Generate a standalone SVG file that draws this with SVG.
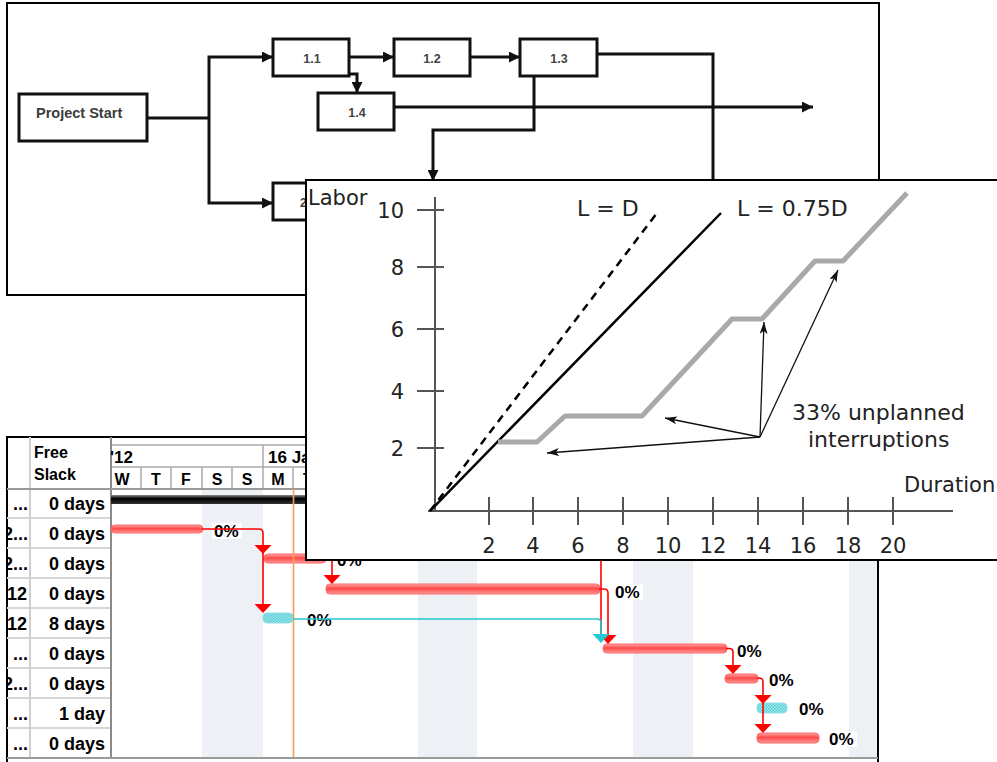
<svg xmlns="http://www.w3.org/2000/svg" width="997" height="762" viewBox="0 0 997 762">
<defs>
<style>
.box{fill:#fff;stroke:#111;stroke-width:3}
.lbl{font-family:"Liberation Sans",Arial,sans-serif;font-size:12.5px;font-weight:bold;fill:#444;text-anchor:middle}
.con{fill:none;stroke:#111;stroke-width:3}
.ax{stroke:#555;stroke-width:2;fill:none}
.ct{font-family:"DejaVu Sans",sans-serif;font-size:21px;fill:#222}
.ctl{font-family:"DejaVu Sans",sans-serif;font-size:22px;fill:#222}
.g{font-family:"Liberation Sans",Arial,sans-serif;font-weight:bold;fill:#000}
.bar{fill:url(#redg);stroke:#ff6a6a;stroke-width:1}
.cbar{fill:url(#hatch);stroke:#8fdde3;stroke-width:1}
.rl{fill:none;stroke:#f00;stroke-width:1.6}
.cl{fill:none;stroke:#22c8d4;stroke-width:1.6}
.pct{font-family:"Liberation Sans",Arial,sans-serif;font-weight:bold;font-size:17px;fill:#000}
.hl{stroke:#aaa;stroke-width:1.5;fill:none}
.rs{stroke:#d6d6d6;stroke-width:2;fill:none}
.thin{fill:none;stroke:#111;stroke-width:1.3}
</style>
<marker id="na" viewBox="0 0 10 10" refX="10" refY="5" markerWidth="11" markerHeight="11" markerUnits="userSpaceOnUse" orient="auto"><path d="M0,0 L10,5 L0,10 z" fill="#111"/></marker>
<marker id="ta" viewBox="0 0 12 8" refX="12" refY="4" markerWidth="12" markerHeight="8" markerUnits="userSpaceOnUse" orient="auto"><path d="M0,0 L12,4 L0,8 L3,4 z" fill="#111"/></marker>
<linearGradient id="redg" x1="0" y1="0" x2="0" y2="1"><stop offset="0" stop-color="#ffa6a6"/><stop offset="0.45" stop-color="#ff4848"/><stop offset="1" stop-color="#ff9a9a"/></linearGradient>
<linearGradient id="blkg" x1="0" y1="0" x2="0" y2="1"><stop offset="0" stop-color="#8a8a8a"/><stop offset="0.4" stop-color="#000"/><stop offset="1" stop-color="#333"/></linearGradient>
<pattern id="hatch" width="3" height="3" patternUnits="userSpaceOnUse"><rect width="3" height="3" fill="#a4e8ec"/><rect width="1.5" height="1.5" fill="#55ced7"/><rect x="1.5" y="1.5" width="1.5" height="1.5" fill="#55ced7"/></pattern>
<path id="tri" d="M-8.5,0 H8.5 L0,9 Z"/>
<clipPath id="c1"><rect x="8" y="490" width="22" height="268"/></clipPath>
<clipPath id="c2"><rect x="111" y="446" width="767" height="43"/></clipPath>
<clipPath id="c3"><rect x="270" y="180" width="36" height="45"/></clipPath>
</defs>

<!-- Network diagram -->
<g id="network">
<rect x="7" y="3" width="872" height="292" fill="#fff" stroke="#000" stroke-width="2"/>
<g id="connectors">
<path class="con" stroke-width="4" d="M147,118 H209"/>
<path class="con" d="M209,118 V57 H273" marker-end="url(#na)"/>
<path class="con" d="M209,118 V203 H273" marker-end="url(#na)"/>
<path class="con" d="M349,57 H394" marker-end="url(#na)"/>
<path class="con" d="M349,74 H357 V93" marker-end="url(#na)"/>
<path class="con" d="M470,57 H520" marker-end="url(#na)"/>
<path class="con" d="M394,107 H813" marker-end="url(#na)"/>
<path class="con" d="M534,76 V130 H433 V181" marker-end="url(#na)"/>
<path class="con" d="M597,54 H713 V200"/>
</g>
<g id="project-start"><rect class="box" x="19" y="94" width="128" height="47"/><text x="36" y="118" font-family="'Liberation Sans',Arial,sans-serif" font-size="14.5" font-weight="bold" fill="#3c3c3c">Project Start</text></g>
<g id="n1-1"><rect class="box" x="273" y="39" width="76" height="37"/><text class="lbl" x="312" y="63">1.1</text></g>
<g id="n1-2"><rect class="box" x="394" y="39" width="76" height="37"/><text class="lbl" x="432" y="63">1.2</text></g>
<g id="n1-3"><rect class="box" x="520" y="39" width="77" height="37"/><text class="lbl" x="559" y="63">1.3</text></g>
<g id="n1-4"><rect class="box" x="318" y="93" width="76" height="37"/><text class="lbl" x="357" y="117">1.4</text></g>
<g id="n2-1"><rect class="box" x="273" y="183" width="76" height="37"/><text x="300" y="207" clip-path="url(#c3)" font-family="'Liberation Sans',Arial,sans-serif" font-size="12.5" font-weight="bold" fill="#444">2</text></g>
</g>

<!-- Gantt chart -->
<g id="gantt">
<rect x="7" y="437" width="871" height="335" fill="#fff" stroke="#000" stroke-width="2"/>
<rect x="202" y="490" width="61" height="267" fill="#edf0f5"/>
<rect x="418" y="490" width="59" height="267" fill="#edf0f5"/>
<rect x="633" y="490" width="60" height="267" fill="#edf0f5"/>
<rect x="849" y="490" width="28" height="267" fill="#edf0f5"/>
<path class="hl" d="M111,445 H878 M111,467 H878 M263,445 V467 M141,467 V489 M171,467 V489 M202,467 V489 M232,467 V489 M263,467 V489 M293,467 V489 M324,467 V489"/>
<path class="rs" d="M7,518 H111 M7,548 H111 M7,578 H111 M7,608 H111 M7,638 H111 M7,668 H111 M7,698 H111 M7,728 H111"/>
<path d="M30,437 V758" stroke="#cfcfcf" stroke-width="2"/>
<path d="M111,437 V758" stroke="#8a8a8a" stroke-width="2"/>
<path d="M7,489 H878" stroke="#9a9a9a" stroke-width="2"/>
<path d="M7,758 H878" stroke="#9a9a9a" stroke-width="2"/>
<text class="g" x="34" y="458" font-size="16">Free</text>
<text class="g" x="34" y="480" font-size="16">Slack</text>
<g clip-path="url(#c2)">
<text class="g" x="110" y="463" font-size="17">'12</text>
<text class="g" x="268" y="463" font-size="17">16 Jan '12</text>
<g font-size="16" text-anchor="middle">
<text class="g" x="122" y="485">W</text><text class="g" x="156" y="485">T</text><text class="g" x="186" y="485">F</text><text class="g" x="217" y="485">S</text><text class="g" x="247" y="485">S</text><text class="g" x="278" y="485">M</text><text class="g" x="308" y="485">T</text>
</g>
</g>
<g font-size="18" text-anchor="end">
<text class="g" x="105" y="510">0 days</text>
<text class="g" x="105" y="540">0 days</text>
<text class="g" x="105" y="570">0 days</text>
<text class="g" x="105" y="600">0 days</text>
<text class="g" x="105" y="630">8 days</text>
<text class="g" x="105" y="660">0 days</text>
<text class="g" x="105" y="690">0 days</text>
<text class="g" x="105" y="720">1 day</text>
<text class="g" x="105" y="750">0 days</text>
</g>
<g clip-path="url(#c1)" font-size="18" text-anchor="end">
<text class="g" x="28" y="510">...</text>
<text class="g" x="28" y="540">2...</text>
<text class="g" x="28" y="570">2...</text>
<text class="g" x="27" y="600">12</text>
<text class="g" x="27" y="630">12</text>
<text class="g" x="28" y="660">...</text>
<text class="g" x="28" y="690">2...</text>
<text class="g" x="28" y="720">...</text>
<text class="g" x="28" y="750">...</text>
</g>
<!-- bars -->
<rect x="111" y="495" width="230" height="9" fill="url(#blkg)"/>
<rect class="bar" x="111" y="525" width="92" height="8" rx="4"/>
<rect class="bar" x="264" y="554" width="62" height="9" rx="4"/>
<rect class="bar" x="326" y="584" width="274" height="10" rx="4"/>
<rect class="cbar" x="263" y="613" width="30" height="10" rx="4"/>
<rect class="bar" x="603" y="644" width="124" height="9" rx="4"/>
<rect class="bar" x="725" y="674" width="33" height="9" rx="4"/>
<rect class="cbar" x="757" y="703" width="30" height="10" rx="4"/>
<rect class="bar" x="757" y="733" width="62" height="10" rx="4"/>
<path d="M293.5,489 V757" stroke="#f5a05a" stroke-width="1.6"/>
<!-- percent labels -->
<g fill="#fff">
<rect x="212" y="523" width="30" height="16"/><rect x="335" y="552" width="30" height="16"/><rect x="613" y="584" width="30" height="16"/><rect x="305" y="612" width="30" height="16"/><rect x="735" y="643" width="30" height="16"/><rect x="767" y="672" width="30" height="16"/><rect x="797" y="701" width="30" height="16"/><rect x="827" y="731" width="30" height="16"/>
</g>
<text class="pct" x="214" y="537">0%</text>
<text class="pct" x="337" y="566">0%</text>
<text class="pct" x="615" y="598">0%</text>
<text class="pct" x="307" y="626">0%</text>
<text class="pct" x="737" y="657">0%</text>
<text class="pct" x="769" y="686">0%</text>
<text class="pct" x="799" y="715">0%</text>
<text class="pct" x="829" y="745">0%</text>
<!-- links -->
<g id="gantt-links">
<path class="rl" d="M202,529 H259 Q263,529 263,533 V605"/>
<use href="#tri" x="263" y="545" fill="#f00"/>
<use href="#tri" x="263" y="604" fill="#f00"/>
<path class="rl" d="M325,558 H328 Q332,558 332,562 V576"/>
<use href="#tri" x="332" y="575" fill="#f00"/>
<path class="rl" d="M601,555 V636"/>
<path class="rl" d="M599,589 H604 Q608,589 608,593 V636"/>
<use href="#tri" x="608" y="635" fill="#f00"/>
<path class="cl" d="M293,619 H597 Q601,619 601,623 V635"/>
<use href="#tri" x="601" y="634" fill="#22c8d4"/>
<path class="rl" d="M726,648.5 H729 Q733,648.5 733,652 V666"/>
<use href="#tri" x="733" y="665" fill="#f00"/>
<path class="rl" d="M757,678 H759 Q763,678 763,682 V725"/>
<use href="#tri" x="763" y="695" fill="#f00"/>
<use href="#tri" x="763" y="724" fill="#f00"/>
</g>
</g>

<!-- Labor / Duration chart -->
<g id="chart">
<rect x="306" y="180" width="700" height="380" fill="#fff" stroke="#000" stroke-width="2"/>
<path class="ax" d="M435,197 V511 M428,511 H953"/>
<path class="ax" d="M417,210 H444 M417,267 H444 M417,329 H444 M417,391 H444 M417,448 H444"/>
<path class="ax" d="M489,497 V525 M533,497 V525 M578,497 V525 M623,497 V525 M668,497 V525 M713,497 V525 M758,497 V525 M803,497 V525 M848,497 V525 M893,497 V525"/>
<g class="ct" text-anchor="end">
<text x="404" y="218">10</text><text x="404" y="275">8</text><text x="404" y="337">6</text><text x="404" y="399">4</text><text x="404" y="456">2</text>
</g>
<g class="ct" text-anchor="middle">
<text x="489" y="553">2</text><text x="533" y="553">4</text><text x="578" y="553">6</text><text x="623" y="553">8</text><text x="668" y="553">10</text><text x="713" y="553">12</text><text x="758" y="553">14</text><text x="803" y="553">16</text><text x="848" y="553">18</text><text x="893" y="553">20</text>
</g>
<text class="ct" x="308" y="205">Labor</text>
<text class="ct" x="904" y="492">Duration</text>
<text class="ctl" x="577" y="216">L = D</text>
<text class="ctl" x="737" y="216">L = 0.75D</text>
<text class="ctl" x="792" y="420">33% unplanned</text>
<text class="ctl" x="808" y="447">interruptions</text>
<path d="M430,511 L657,213" stroke="#000" stroke-width="2.5" stroke-dasharray="8,6" fill="none"/>
<path d="M430,511 L721,213" stroke="#000" stroke-width="2.5" fill="none"/>
<path d="M498,442 L537,442 L565,416 L642,416 L732,319 L762,319 L815,261 L843,261 L907,193" stroke="#a9a9a9" stroke-width="5" fill="none" stroke-linejoin="round"/>
<path class="thin" d="M760,437 L547,453" marker-end="url(#ta)"/>
<path class="thin" d="M760,437 L665,418" marker-end="url(#ta)"/>
<path class="thin" d="M760,437 L764,322" marker-end="url(#ta)"/>
<path class="thin" d="M760,437 L838,270" marker-end="url(#ta)"/>
</g>
</svg>
